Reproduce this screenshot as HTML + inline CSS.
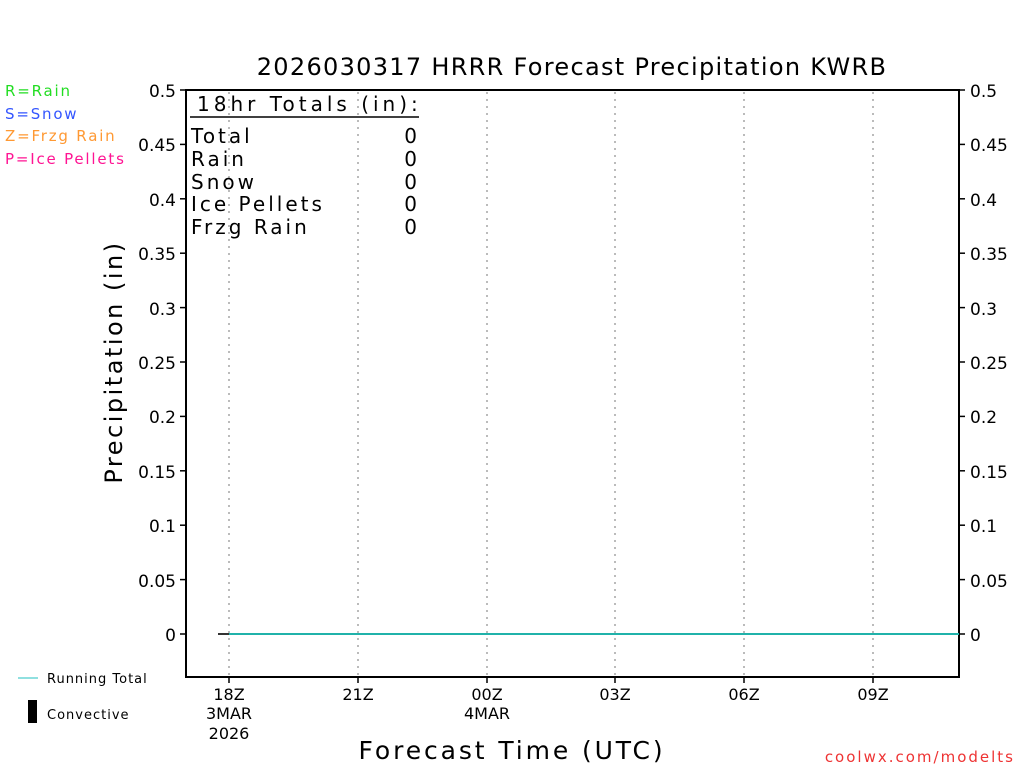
<!DOCTYPE html>
<html><head><meta charset="utf-8"><style>
html,body{margin:0;padding:0;background:#fff}
svg text{font-family:"DejaVu Sans","Liberation Sans",sans-serif}
</style></head><body>
<svg width="1024" height="768" viewBox="0 0 1024 768" xmlns="http://www.w3.org/2000/svg">
<rect width="1024" height="768" fill="#fff"/>
<text x="572" y="75" font-size="24" text-anchor="middle" fill="#000" letter-spacing="1.3">2026030317 HRRR Forecast Precipitation KWRB</text>
<g font-size="15" letter-spacing="1.8">
<text x="5" y="96" fill="#22dd22">R=Rain</text>
<text x="5" y="119" fill="#3355ff">S=Snow</text>
<text x="5" y="141" fill="#ff9933">Z=Frzg Rain</text>
<text x="5" y="164" fill="#ff1493">P=Ice Pellets</text>
</g>
<g stroke="#bbb" stroke-width="2" stroke-dasharray="2,5">
<line x1="229" y1="92" x2="229" y2="676"/>
<line x1="358" y1="92" x2="358" y2="676"/>
<line x1="487" y1="92" x2="487" y2="676"/>
<line x1="615" y1="92" x2="615" y2="676"/>
<line x1="744" y1="92" x2="744" y2="676"/>
<line x1="873" y1="92" x2="873" y2="676"/>
</g>
<rect x="186" y="90" width="773" height="587" fill="none" stroke="#000" stroke-width="2"/>
<g stroke="#000" stroke-width="1.5">
<line x1="180" y1="90" x2="186" y2="90"/><line x1="180" y1="144.4" x2="186" y2="144.4"/><line x1="180" y1="198.8" x2="186" y2="198.8"/><line x1="180" y1="253.2" x2="186" y2="253.2"/><line x1="180" y1="307.6" x2="186" y2="307.6"/><line x1="180" y1="362" x2="186" y2="362"/><line x1="180" y1="416.4" x2="186" y2="416.4"/><line x1="180" y1="470.8" x2="186" y2="470.8"/><line x1="180" y1="525.2" x2="186" y2="525.2"/><line x1="180" y1="579.6" x2="186" y2="579.6"/><line x1="180" y1="634" x2="186" y2="634"/>
<line x1="959" y1="90" x2="965" y2="90"/><line x1="959" y1="144.4" x2="965" y2="144.4"/><line x1="959" y1="198.8" x2="965" y2="198.8"/><line x1="959" y1="253.2" x2="965" y2="253.2"/><line x1="959" y1="307.6" x2="965" y2="307.6"/><line x1="959" y1="362" x2="965" y2="362"/><line x1="959" y1="416.4" x2="965" y2="416.4"/><line x1="959" y1="470.8" x2="965" y2="470.8"/><line x1="959" y1="525.2" x2="965" y2="525.2"/><line x1="959" y1="579.6" x2="965" y2="579.6"/><line x1="959" y1="634" x2="965" y2="634"/>
<line x1="229" y1="677" x2="229" y2="683"/><line x1="358" y1="677" x2="358" y2="683"/><line x1="487" y1="677" x2="487" y2="683"/><line x1="615" y1="677" x2="615" y2="683"/><line x1="744" y1="677" x2="744" y2="683"/><line x1="873" y1="677" x2="873" y2="683"/>
</g>
<g font-size="17" fill="#000" text-anchor="end">
<text x="176" y="97">0.5</text><text x="176" y="151">0.45</text><text x="176" y="206">0.4</text><text x="176" y="260">0.35</text><text x="176" y="315">0.3</text><text x="176" y="369">0.25</text><text x="176" y="423">0.2</text><text x="176" y="478">0.15</text><text x="176" y="532">0.1</text><text x="176" y="587">0.05</text><text x="176" y="641">0</text>
</g>
<g font-size="17" fill="#000">
<text x="970" y="97">0.5</text><text x="970" y="151">0.45</text><text x="970" y="206">0.4</text><text x="970" y="260">0.35</text><text x="970" y="315">0.3</text><text x="970" y="369">0.25</text><text x="970" y="423">0.2</text><text x="970" y="478">0.15</text><text x="970" y="532">0.1</text><text x="970" y="587">0.05</text><text x="970" y="641">0</text>
</g>
<g font-size="16" fill="#000" text-anchor="middle">
<text x="229" y="700">18Z</text><text x="229" y="719">3MAR</text><text x="229" y="739">2026</text>
<text x="358" y="700">21Z</text>
<text x="487" y="700">00Z</text><text x="487" y="719">4MAR</text>
<text x="615" y="700">03Z</text><text x="744" y="700">06Z</text><text x="873" y="700">09Z</text>
</g>
<text transform="translate(122,362) rotate(-90)" font-size="24" text-anchor="middle" letter-spacing="2.5">Precipitation (in)</text>
<text x="512" y="759" font-size="25" text-anchor="middle" letter-spacing="2.9">Forecast Time (UTC)</text>
<text x="1015" y="762" font-size="15" fill="#ee3333" text-anchor="end" letter-spacing="2">coolwx.com/modelts</text>
<text x="197" y="111" font-size="20" letter-spacing="4">18hr Totals (in):</text>
<line x1="190" y1="117" x2="419" y2="117" stroke="#000" stroke-width="1.5"/>
<g font-size="20" letter-spacing="3">
<text x="191" y="143">Total</text><text x="191" y="166">Rain</text><text x="191" y="189">Snow</text><text x="191" y="211">Ice Pellets</text><text x="191" y="234">Frzg Rain</text>
</g>
<g font-size="20">
<text x="417" y="143" text-anchor="end">0</text><text x="417" y="166" text-anchor="end">0</text><text x="417" y="189" text-anchor="end">0</text><text x="417" y="211" text-anchor="end">0</text><text x="417" y="234" text-anchor="end">0</text>
</g>
<line x1="218" y1="634" x2="229" y2="634" stroke="#333" stroke-width="2"/>
<line x1="229" y1="634" x2="959" y2="634" stroke="#20b2aa" stroke-width="2"/>
<line x1="18" y1="678" x2="38" y2="678" stroke="#20c0c0" stroke-width="1"/>
<text x="47" y="683" font-size="13" letter-spacing="1">Running Total</text>
<rect x="28" y="700" width="9" height="23" fill="#000"/>
<text x="47" y="719" font-size="13" letter-spacing="1">Convective</text>
</svg>
</body></html>
